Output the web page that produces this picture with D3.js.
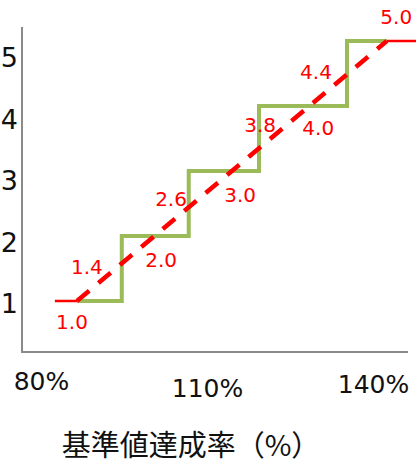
<!DOCTYPE html>
<html>
<head>
<meta charset="utf-8">
<script src="https://cdn.jsdelivr.net/npm/d3@7"></script>
<style>
  html, body { margin: 0; padding: 0; background: #fff; }
  svg { display: block; }
</style>
</head>
<body>
<script>
// Score levels (1-5) against achievement rate of the target value (%)

// Stepped score: rate where each level begins, and the level reached
const stepRates  = [86.5, 94.6, 106.7, 119.4, 135.3, 142.5];
const stepScores = [1, 2, 3, 4, 5, 5];

// Linear score: flat at 1.0, straight rise, flat at 5.0
const lineRates  = [82.5, 86.5, 142.5, 147.8];
const lineScores = [1.0, 1.0, 5.0, 5.0];

// Score annotations along the linear line
const labelRates  = [85.6, 88.3, 101.7, 103.5, 116.0, 119.6, 130.1, 129.7, 144.2];
const labelScores = [1.0, 1.4, 2.0, 2.6, 3.0, 3.8, 4.0, 4.4, 5.0];

// Axis ticks
const xTicks = [80, 110, 140];
const yTicks = [1, 2, 3, 4, 5];
const xTitle = "基準値達成率（%）";

// ---- layout ----
const W = 416, H = 465;
const axisX = 22, axisTop = 27, axisBottom = 352, axisRight = 408;
const labelNudge = [21, -8, 24, 2, 24, 6, 22, -8, -24];   // vertical offset of each annotation
const xTickStagger = [0, 7, 3];

const svg = d3.select("body").append("svg")
  .attr("width", W).attr("height", H);

const x = d3.scaleLinear().domain([80, 140]).range([41, 373]);
const y = d3.scaleLinear().domain([1, 5]).range([301, 41]);
const yAxisScale = d3.scaleLinear().domain([1, 5]).range([303, 57]);

const axisColor = "#8a8a8a";

// axis lines
svg.append("line")
  .attr("x1", axisX).attr("x2", axisX)
  .attr("y1", axisTop).attr("y2", axisBottom + 1)
  .attr("stroke", axisColor).attr("stroke-width", 2);
svg.append("line")
  .attr("x1", axisX - 1).attr("x2", axisRight)
  .attr("y1", axisBottom).attr("y2", axisBottom)
  .attr("stroke", axisColor).attr("stroke-width", 2);

// y axis labels
const gy = svg.append("g")
  .attr("transform", `translate(${axisX},0)`)
  .call(d3.axisLeft(yAxisScale).tickValues(yTicks).tickSize(0).tickPadding(4).tickFormat(d3.format("d")));
gy.select(".domain").remove();
gy.selectAll("text")
  .attr("dy", "0.36em")
  .attr("font-family", "DejaVu Sans, Verdana, sans-serif")
  .attr("font-size", 27)
  .attr("fill", "#111");

// x axis labels
const gx = svg.append("g")
  .attr("transform", `translate(0,${axisBottom})`)
  .call(d3.axisBottom(x).tickValues(xTicks).tickSize(0).tickFormat(d => d + "%"));
gx.select(".domain").remove();
gx.selectAll("text")
  .attr("y", (d, i) => 20 + xTickStagger[i])
  .attr("font-family", "DejaVu Sans, Verdana, sans-serif")
  .attr("font-size", 25)
  .attr("fill", "#111");

// x axis title
svg.append("text")
  .attr("x", 191).attr("y", 456)
  .attr("text-anchor", "middle")
  .attr("font-family", "Noto Sans CJK JP, sans-serif")
  .attr("font-size", 29)
  .attr("fill", "#111")
  .text(xTitle);

// stepped score (green)
const stepPts = stepRates.map((r, i) => [r, stepScores[i]]);
svg.append("path")
  .datum(stepPts)
  .attr("d", d3.line().x(d => x(d[0])).y(d => y(d[1])).curve(d3.curveStepAfter))
  .attr("fill", "none")
  .attr("stroke", "#9BBB59")
  .attr("stroke-width", 4)
  .attr("stroke-linejoin", "miter");

// linear score (red): solid flat ends, dashed rise
const linePts = lineRates.map((r, i) => [r, lineScores[i]]);
const lineGen = d3.line().x(d => x(d[0])).y(d => y(d[1]));
svg.append("path")
  .datum(linePts.slice(1, 3))
  .attr("d", lineGen)
  .attr("fill", "none")
  .attr("stroke", "#FF0000")
  .attr("stroke-width", 4.5)
  .attr("stroke-dasharray", "16,12");
[[0, 2], [2, 4]].forEach(([a, b]) => {
  svg.append("path")
    .datum(linePts.slice(a, b))
    .attr("d", lineGen)
    .attr("fill", "none")
    .attr("stroke", "#FF0000")
    .attr("stroke-width", 2.5);
});

// score annotations
svg.append("g").selectAll("text")
  .data(labelScores)
  .join("text")
  .attr("x", (d, i) => x(labelRates[i]))
  .attr("y", (d, i) => y(d) + labelNudge[i])
  .attr("dy", "0.36em")
  .attr("text-anchor", "middle")
  .attr("font-family", "DejaVu Sans, Verdana, sans-serif")
  .attr("font-size", 20)
  .attr("fill", "#FF0000")
  .text(d => d.toFixed(1));
</script>
</body>
</html>
